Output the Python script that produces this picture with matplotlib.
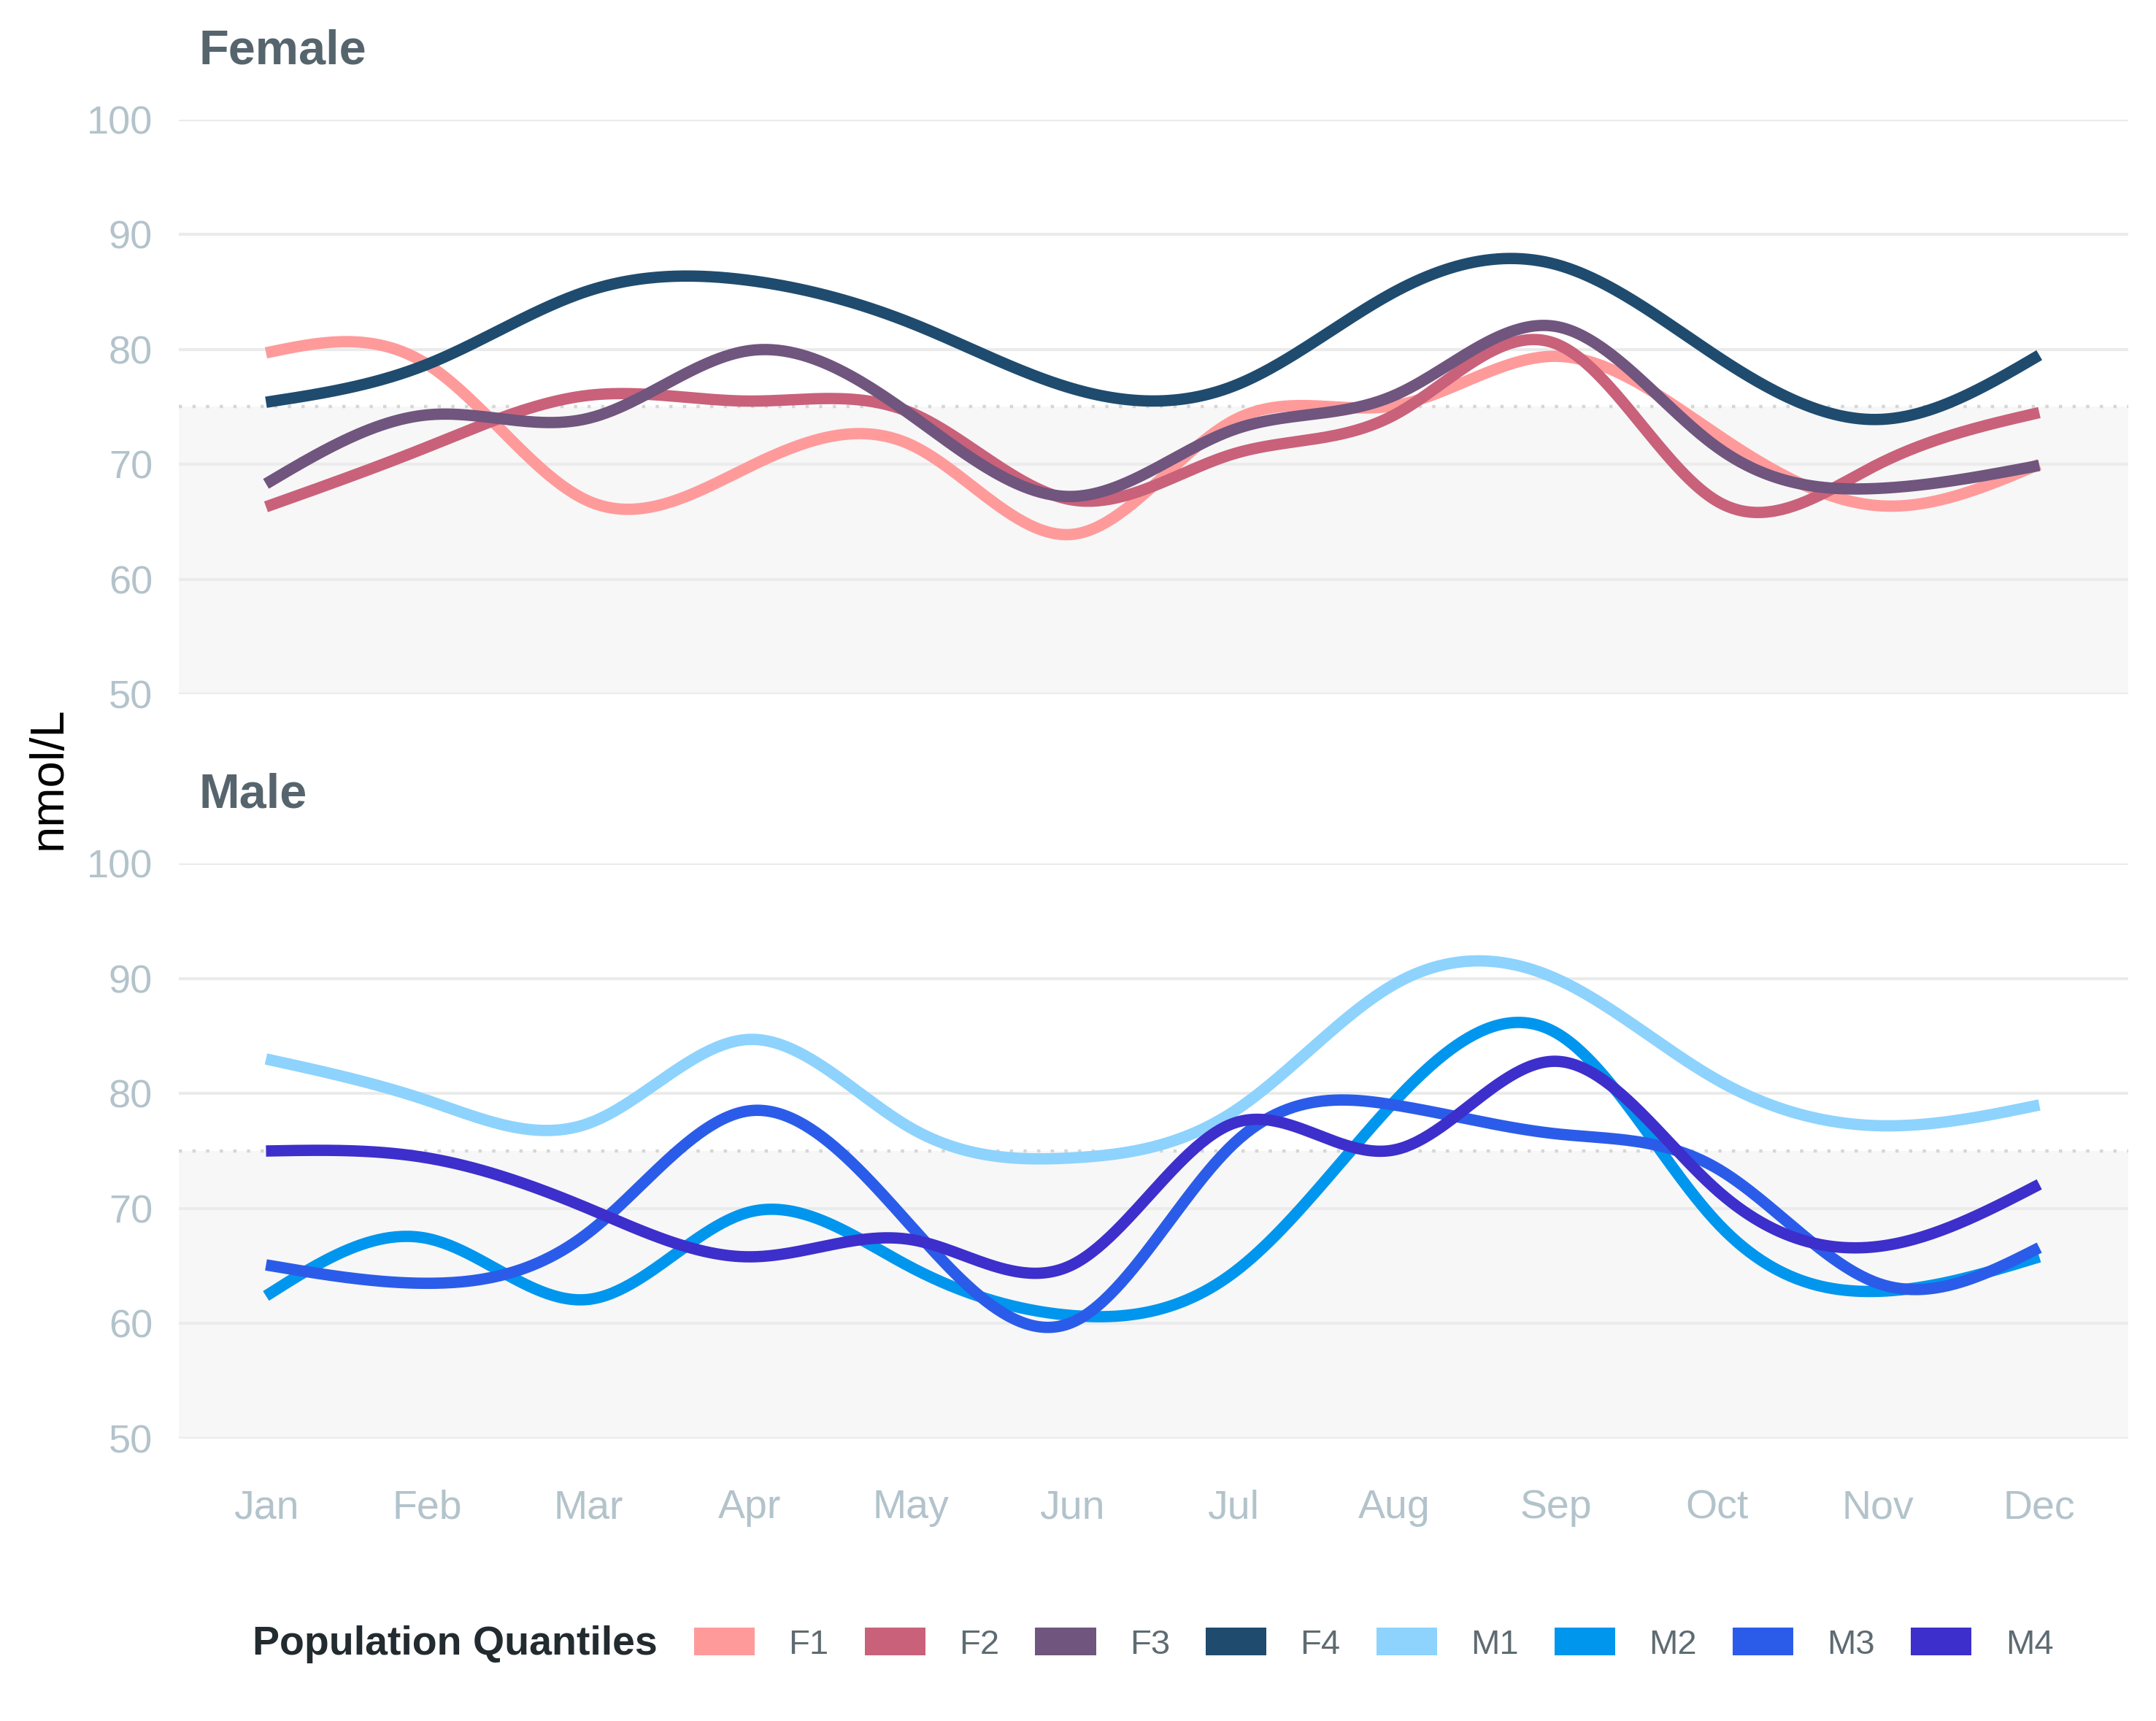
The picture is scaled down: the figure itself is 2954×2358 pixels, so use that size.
"""Monthly nmol/L by population quantile, female vs male panels."""

import matplotlib

matplotlib.use("Agg")
import matplotlib.pyplot as plt
from matplotlib.patches import Patch
import numpy as np

plt.rcParams["font.family"] = ["Liberation Sans", "DejaVu Sans"]

months = ["Jan", "Feb", "Mar", "Apr", "May", "Jun",
          "Jul", "Aug", "Sep", "Oct", "Nov", "Dec"]

# values, one per month
f1 = [79.7, 78.7, 66.8, 69.8, 71.7, 63.9, 73.8, 75.1, 79.4, 72.6, 66.4, 70.0]
f2 = [66.3, 71.5, 76.0, 75.5, 74.5, 66.9, 70.9, 74.3, 80.5, 66.8, 70.0, 74.5]
f3 = [68.3, 74.3, 74.0, 79.9, 74.3, 67.2, 73.0, 76.0, 82.0, 71.5, 67.9, 69.9]
f4 = [75.4, 78.7, 85.1, 86.0, 82.3, 76.6, 76.8, 85.0, 87.4, 79.4, 73.9, 79.5]

m1 = [83.0, 79.4, 77.4, 84.7, 77.0, 74.4, 78.4, 89.5, 90.0, 81.2, 77.2, 79.0]
m2 = [62.4, 67.4, 62.1, 69.7, 64.9, 60.7, 64.4, 79.3, 85.3, 68.8, 62.8, 65.8]
m3 = [65.1, 63.5, 67.9, 78.5, 68.5, 60.1, 75.6, 79.0, 76.5, 73.5, 63.5, 66.6]
m4 = [75.0, 74.4, 70.0, 65.8, 67.3, 65.1, 77.4, 75.1, 82.8, 71.6, 66.7, 72.1]

female = {"F1": f1, "F2": f2, "F3": f3, "F4": f4}
male = {"M1": m1, "M2": m2, "M3": m3, "M4": m4}

colors = {
    "F1": "#FF9A9B", "F2": "#C9617A", "F3": "#70557E", "F4": "#1F4B6E",
    "M1": "#8DD3FD", "M2": "#0096EE", "M3": "#2B5CE9", "M4": "#3D2FCB",
}

ref_low, ref_high = 50, 75

TICK_COLOR = "#B3C3CB"
TITLE_COLOR = "#56656D"
GRID_COLOR = "#EBEBEB"


def natural_spline(x, y, xs):
    """Natural cubic spline through (x, y), evaluated at xs."""
    x = np.asarray(x, float)
    y = np.asarray(y, float)
    n = len(x)
    h = np.diff(x)
    A = np.zeros((n, n))
    r = np.zeros(n)
    A[0, 0] = A[-1, -1] = 1.0
    for i in range(1, n - 1):
        A[i, i - 1] = h[i - 1]
        A[i, i] = 2 * (h[i - 1] + h[i])
        A[i, i + 1] = h[i]
        r[i] = 3 * ((y[i + 1] - y[i]) / h[i] - (y[i] - y[i - 1]) / h[i - 1])
    c = np.linalg.solve(A, r)
    b = (y[1:] - y[:-1]) / h - h * (2 * c[:-1] + c[1:]) / 3
    d = (c[1:] - c[:-1]) / (3 * h)
    idx = np.clip(np.searchsorted(x, xs) - 1, 0, n - 2)
    dx = xs - x[idx]
    return y[idx] + b[idx] * dx + c[idx] * dx ** 2 + d[idx] * dx ** 3


fig = plt.figure(figsize=(14.77, 11.79), dpi=200)
ax_f = fig.add_axes([0.083, 0.5967, 0.904, 0.3338])
ax_m = fig.add_axes([0.083, 0.1641, 0.904, 0.3342])

x = np.arange(len(months))
xs = np.linspace(0, len(months) - 1, 600)

for ax, group in [(ax_f, female), (ax_m, male)]:
    ax.axhspan(ref_low, ref_high, color="#F7F7F7", zorder=0, lw=0)
    ax.axhline(ref_high, color="#D6D6D6", lw=1.6, ls=(0, (1, 3.2)), zorder=1)
    for yv in range(50, 101, 10):
        ax.axhline(yv, color=GRID_COLOR, lw=1.5, zorder=1)
    for name, vals in group.items():
        ax.plot(xs, natural_spline(x, vals, xs), color=colors[name],
                lw=5.6, solid_capstyle="butt", zorder=3)

    ax.set_xlim(-0.54, 11.55)
    ax.set_ylim(50, 100)
    ax.set_yticks(range(50, 101, 10))
    ax.set_xticks(x)
    for s in ax.spines.values():
        s.set_visible(False)
    ax.tick_params(length=0, colors=TICK_COLOR, labelsize=19.5)
    ax.tick_params(axis="y", pad=13)
    ax.tick_params(axis="x", pad=25, labelsize=20)
    ax.set_facecolor("none")

ax_f.set_xticklabels([])
ax_m.set_xticklabels(months)

fig.text(0.0924, 0.9627, "Female", fontsize=24, fontweight="bold",
         color=TITLE_COLOR, ha="left", va="baseline")
fig.text(0.0924, 0.5306, "Male", fontsize=24, fontweight="bold",
         color=TITLE_COLOR, ha="left", va="baseline")
fig.text(0.0225, 0.548, "nmol/L", fontsize=23.5, rotation=90,
         color="black", ha="center", va="center")

names = list(female) + list(male)
handles = [Patch(facecolor=colors[n], edgecolor="none") for n in names]
leg = fig.legend(handles, names, ncol=8, frameon=False,
                 loc="center left", bbox_to_anchor=(0.322, 0.0445),
                 borderaxespad=0, borderpad=0, fontsize=17,
                 handlelength=1.76, handleheight=0.85,
                 handletextpad=0.98, columnspacing=1.04)
for t in leg.get_texts():
    t.set_color("#5E6B72")
fig.text(0.305, 0.0445, "Population Quantiles", fontsize=20,
         fontweight="bold", color="#222B2F", ha="right", va="center")

fig.savefig("out.png", dpi=200)
